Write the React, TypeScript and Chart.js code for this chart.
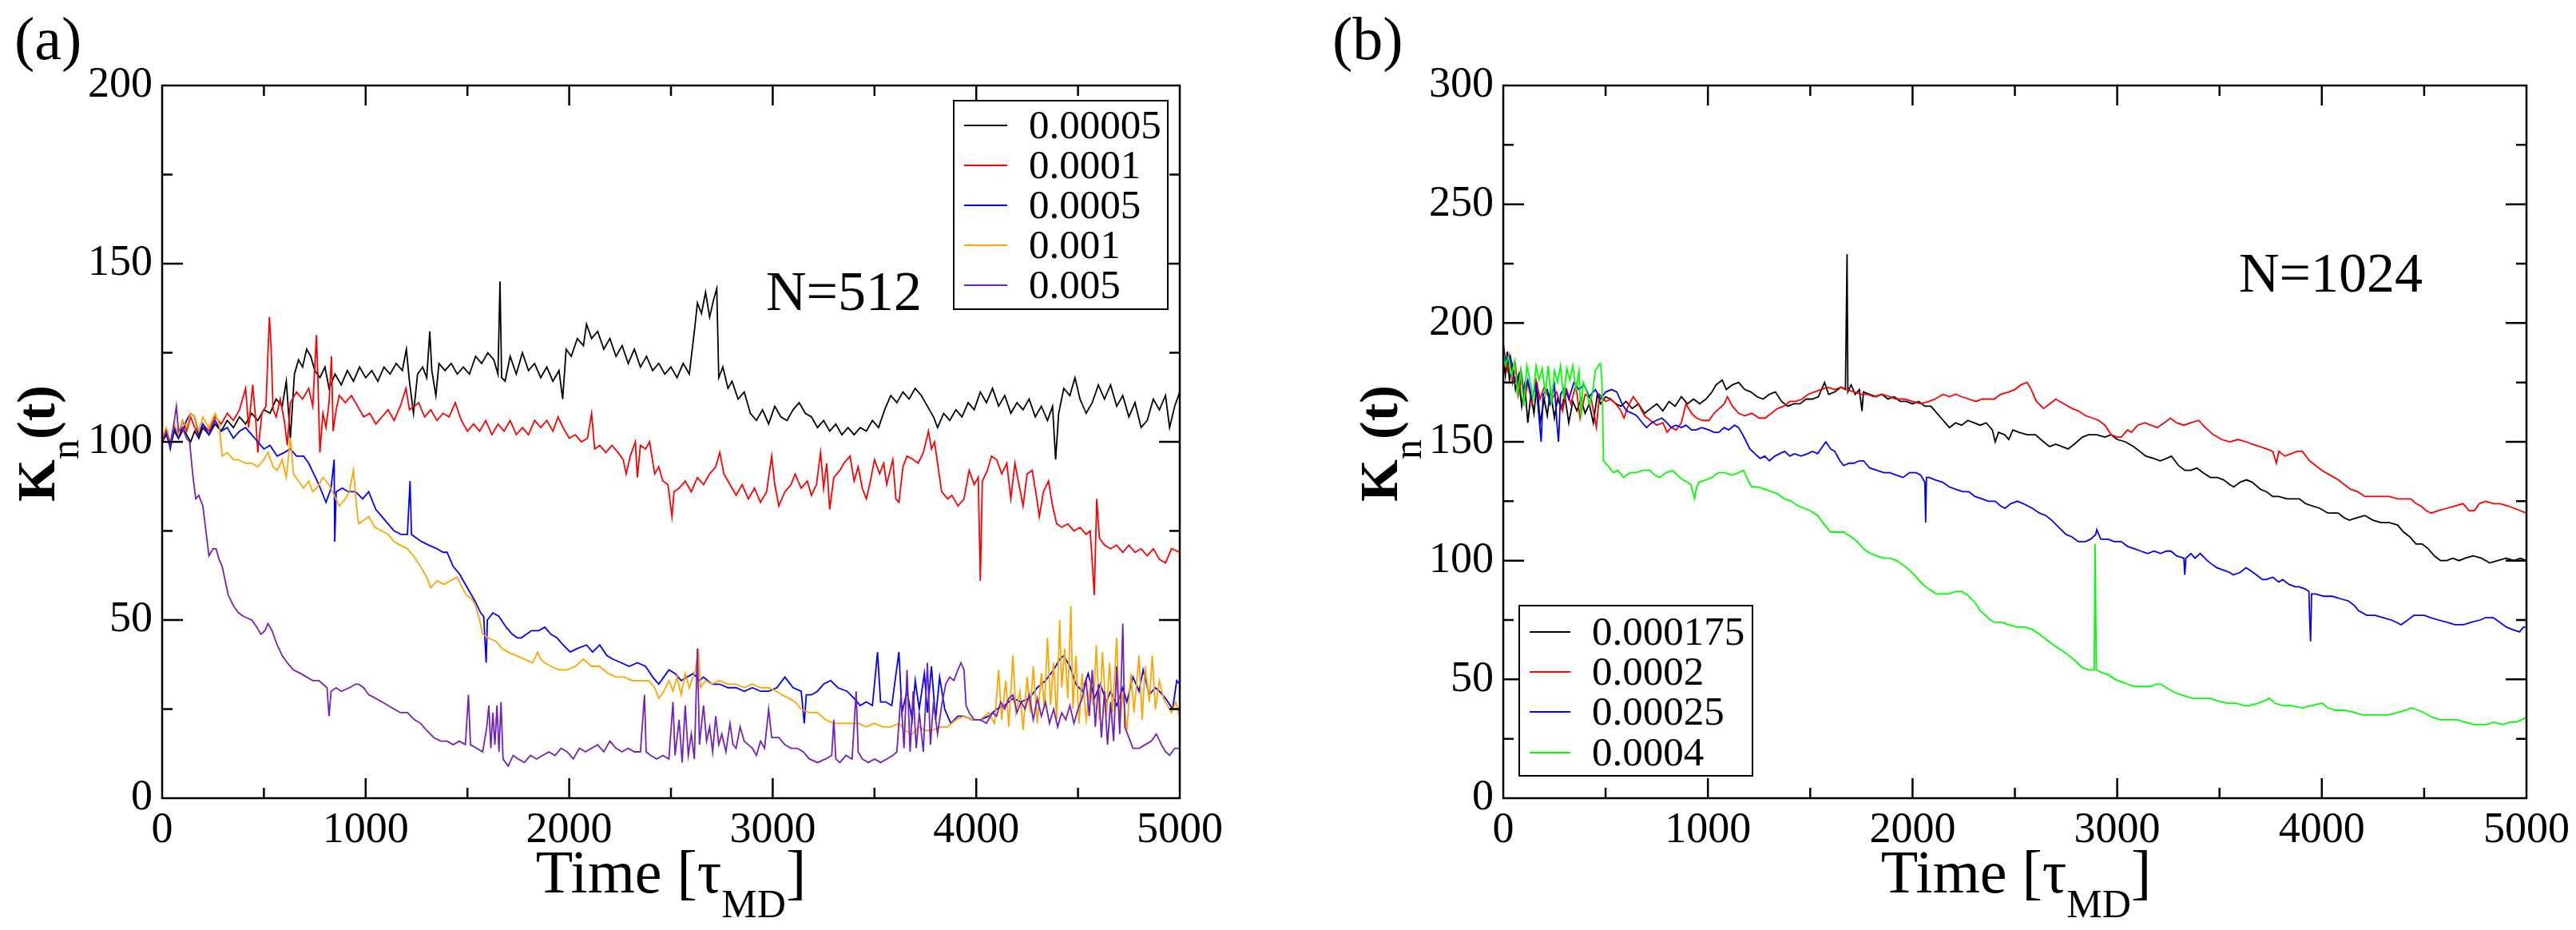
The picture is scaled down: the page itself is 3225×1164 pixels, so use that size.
import { useEffect, useRef } from 'react'
import { Chart, registerables } from 'chart.js'
Chart.register(...registerables)

type Pt = [number, number]

// ---- panel (a), N=512 ----
const A_LABELS = ['0.00005', '0.0001', '0.0005', '0.001', '0.005']
const A_COLORS = ['#000000', '#ff0000', '#0000ff', '#ffa500', '#7221bc']

const A_00005: Pt[] = [[0,100],[20,102],[40,99],[60,103],[80,101],[100,104],[120,102],[140,100],[160,103],[180,101],[200,104],[230,102],[260,105],[290,103],[320,106],[350,104],[380,107],[410,105],[440,108],[470,106],[500,109],[530,108],[560,112],[590,110],[610,117],[630,101],[650,119],[670,123],[690,121],[710,126],[730,124],[750,120],[775,118],[800,121],[820,115],[850,119],[880,116],[910,120],[940,117],[970,121],[1000,118],[1030,120],[1060,117],[1090,121],[1120,119],[1150,122],[1180,120],[1200,126],[1215,117],[1235,108],[1255,119],[1280,121],[1300,118],[1315,131],[1325,120],[1345,113],[1360,122],[1390,120],[1420,122],[1450,119],[1480,121],[1510,119],[1540,124],[1570,122],[1600,125],[1630,123],[1650,119],[1660,145],[1668,118],[1685,117],[1710,124],[1740,119],[1770,125],[1800,120],[1830,122],[1860,118],[1890,121],[1920,117],[1950,120],[1968,112],[1985,126],[2010,124],[2040,129],[2070,127],[2085,133],[2110,129],[2140,131],[2170,126],[2200,129],[2230,124],[2260,127],[2290,122],[2320,126],[2350,121],[2380,124],[2410,120],[2440,122],[2470,119],[2500,121],[2530,118],[2560,122],[2590,119],[2615,131],[2630,139],[2650,136],[2670,142],[2690,135],[2710,140],[2725,143],[2735,118],[2755,121],[2780,115],[2800,117],[2830,112],[2860,114],[2890,108],[2920,106],[2950,109],[2980,105],[3010,110],[3040,107],[3070,106],[3100,109],[3130,111],[3160,108],[3190,107],[3220,104],[3250,106],[3280,103],[3310,105],[3340,102],[3370,104],[3400,102],[3430,104],[3460,103],[3490,106],[3520,104],[3550,109],[3580,113],[3610,111],[3640,114],[3670,112],[3700,115],[3730,113],[3760,110],[3790,107],[3810,104],[3840,108],[3870,106],[3900,109],[3930,107],[3960,111],[3990,109],[4020,114],[4050,111],[4080,115],[4110,110],[4140,113],[4170,108],[4200,111],[4230,109],[4260,112],[4290,107],[4320,110],[4350,106],[4375,110],[4390,95],[4405,108],[4430,115],[4460,113],[4485,118],[4510,112],[4540,108],[4570,111],[4600,116],[4630,112],[4660,116],[4690,110],[4720,113],[4750,107],[4780,111],[4810,104],[4840,106],[4870,112],[4900,109],[4930,113],[4950,104],[4975,110],[5000,114]]

const A_0001: Pt[] = [[0,101],[20,103],[40,99],[60,104],[80,102],[100,106],[120,103],[140,107],[160,104],[180,102],[200,105],[230,103],[260,107],[290,105],[320,108],[350,106],[380,109],[410,115],[425,104],[445,116],[460,106],[470,97],[490,108],[510,110],[520,125],[527,135],[535,127],[545,109],[560,107],[580,112],[600,106],[615,99],[630,111],[660,114],[690,112],[720,115],[740,110],[758,130],[765,118],[775,97],[790,108],[805,104],[820,111],[832,124],[840,103],[855,109],[870,113],[900,111],[930,113],[960,110],[990,107],[1020,108],[1050,105],[1080,107],[1110,109],[1140,106],[1170,110],[1198,115],[1215,109],[1240,110],[1260,111],[1290,107],[1320,109],[1350,106],[1380,108],[1410,107],[1440,111],[1470,106],[1500,103],[1530,105],[1560,103],[1590,106],[1620,102],[1650,105],[1680,103],[1710,106],[1740,102],[1770,104],[1800,102],[1830,106],[1860,104],[1890,106],[1920,103],[1945,107],[1970,104],[2000,101],[2030,102],[2060,100],[2090,101],[2110,108],[2125,98],[2150,99],[2180,97],[2210,99],[2240,97],[2265,95],[2280,91],[2300,96],[2325,100],[2335,90],[2350,99],[2375,98],[2395,100],[2420,91],[2440,93],[2460,89],[2485,88],[2505,79],[2515,86],[2540,87],[2570,89],[2600,86],[2630,90],[2660,88],[2690,91],[2720,93],[2740,97],[2760,91],[2790,88],[2820,85],[2850,88],[2880,84],[2910,87],[2940,83],[2970,86],[2995,96],[3010,88],[3030,82],[3060,86],[3090,88],[3110,91],[3140,87],[3170,89],[3190,85],[3215,88],[3235,97],[3250,87],[3265,94],[3280,81],[3300,90],[3330,92],[3350,94],[3380,96],[3400,89],[3420,93],[3440,87],[3460,84],[3480,89],[3500,95],[3525,91],[3545,94],[3560,88],[3590,95],[3605,84],[3620,83],[3640,93],[3660,96],[3690,95],[3715,94],[3740,97],[3765,103],[3780,98],[3795,100],[3815,92],[3830,86],[3860,84],[3880,85],[3910,82],[3940,84],[3965,92],[3990,88],[4010,90],[4020,61],[4030,89],[4055,92],[4075,96],[4100,95],[4125,91],[4150,94],[4170,84],[4190,94],[4210,88],[4230,82],[4250,91],[4275,92],[4295,85],[4310,79],[4330,86],[4355,89],[4375,82],[4395,77],[4420,76],[4450,77],[4480,75],[4510,76],[4540,74],[4560,75],[4580,57],[4592,84],[4605,73],[4630,71],[4660,70],[4690,71],[4720,69],[4750,71],[4780,69],[4810,70],[4840,68],[4870,70],[4900,67],[4930,66],[4960,70],[5000,69]]

const A_0005: Pt[] = [[0,100],[20,103],[40,98],[60,104],[80,101],[100,103],[120,106],[140,108],[160,107],[180,102],[200,105],[230,102],[260,106],[290,103],[320,104],[350,101],[380,103],[410,104],[440,102],[470,100],[500,98],[530,99],[565,96],[600,97],[630,98],[660,96],[695,96],[720,94],[745,91],[770,88],[805,83],[830,87],[845,95],[848,72],[855,86],[885,87],[915,86],[950,86],[985,84],[1015,86],[1050,81],[1080,79],[1110,77],[1140,75],[1175,74],[1205,74],[1218,89],[1225,74],[1250,73],[1275,72],[1310,71],[1350,70],[1380,69],[1400,69],[1430,65],[1460,63],[1480,61],[1510,58],[1540,55],[1565,52],[1580,51],[1592,38],[1598,50],[1625,52],[1655,51],[1690,48],[1720,46],[1745,45],[1765,45],[1790,46],[1815,47],[1850,47],[1880,48],[1910,46],[1940,45],[1970,43],[2005,41],[2040,42],[2085,43],[2115,41],[2150,43],[2185,40],[2215,39],[2255,38],[2295,37],[2335,38],[2375,37],[2410,34],[2440,32],[2465,34],[2490,36],[2520,35],[2550,33],[2580,34],[2610,35],[2640,33],[2660,34],[2700,32],[2740,32],[2780,31],[2820,31],[2860,30],[2900,31],[2940,30],[2980,30],[3020,31],[3060,34],[3100,31],[3140,30],[3155,21],[3165,29],[3190,29],[3220,30],[3250,32],[3285,33],[3320,31],[3365,30],[3400,28],[3430,26],[3460,27],[3490,26],[3515,41],[3530,27],[3555,27],[3585,26],[3620,41],[3635,24],[3660,30],[3685,22],[3700,33],[3720,25],[3745,35],[3760,24],[3780,37],[3800,22],[3820,34],[3845,25],[3875,21],[3910,23],[3940,23],[3980,22],[4020,22],[4060,23],[4100,25],[4140,26],[4180,28],[4220,27],[4260,28],[4300,31],[4340,33],[4380,36],[4410,39],[4430,40],[4460,37],[4490,32],[4520,30],[4550,35],[4580,28],[4610,32],[4640,27],[4660,30],[4690,26],[4720,31],[4740,27],[4770,34],[4800,30],[4820,36],[4850,29],[4880,31],[4900,30],[4930,28],[4965,25],[4985,33],[5000,32]]

const A_001: Pt[] = [[0,101],[20,104],[40,100],[60,105],[80,102],[100,106],[120,104],[140,108],[160,107],[180,103],[200,107],[230,104],[260,108],[280,105],[295,96],[320,97],[350,95],[375,95],[410,94],[440,94],[470,93],[500,95],[520,97],[545,93],[565,92],[590,95],[610,90],[630,101],[645,91],[670,89],[695,87],[720,89],[740,86],[760,87],[790,90],[820,88],[845,85],[870,82],[900,84],[920,86],[940,92],[955,82],[965,77],[990,78],[1015,79],[1045,76],[1080,75],[1110,74],[1140,72],[1170,71],[1205,70],[1235,68],[1270,65],[1300,62],[1320,59],[1350,61],[1385,60],[1415,61],[1450,62],[1475,59],[1495,57],[1520,56],[1540,54],[1560,50],[1575,46],[1600,45],[1640,44],[1670,42],[1700,41],[1740,40],[1780,39],[1820,38],[1845,41],[1860,39],[1880,38],[1910,37],[1950,36],[1990,36],[2030,37],[2070,39],[2110,37],[2150,37],[2190,35],[2230,34],[2270,34],[2310,33],[2350,33],[2390,33],[2420,31],[2440,28],[2465,30],[2490,33],[2510,30],[2530,34],[2550,29],[2570,35],[2590,31],[2620,36],[2635,42],[2645,31],[2670,33],[2700,32],[2740,33],[2780,32],[2820,32],[2860,31],[2900,32],[2940,31],[2980,31],[3020,30],[3045,29],[3080,28],[3110,27],[3140,25],[3180,24],[3220,24],[3260,22],[3300,21],[3340,21],[3380,21],[3420,21],[3460,20],[3500,21],[3540,20],[3580,20],[3620,21],[3650,19],[3685,18],[3720,20],[3750,19],[3780,19],[3820,20],[3860,20],[3900,22],[3940,23],[3980,22],[4020,22],[4060,24],[4090,21],[4110,36],[4125,22],[4145,33],[4160,20],[4180,40],[4195,24],[4215,30],[4230,19],[4250,34],[4265,24],[4280,37],[4300,21],[4320,35],[4335,25],[4350,45],[4365,26],[4380,38],[4395,22],[4410,50],[4420,31],[4435,42],[4450,28],[4465,54],[4475,25],[4490,40],[4505,21],[4520,35],[4540,22],[4560,32],[4575,26],[4590,43],[4605,22],[4620,41],[4640,23],[4655,38],[4670,24],[4690,45],[4705,20],[4720,30],[4740,19],[4760,35],[4775,24],[4800,40],[4815,22],[4830,37],[4850,27],[4865,40],[4880,25],[4900,33],[4920,28],[4940,26],[4960,24],[4980,27],[5000,23]]

const A_005: Pt[] = [[0,100],[20,103],[40,99],[60,106],[70,110],[80,103],[100,104],[120,101],[135,100],[150,91],[165,84],[180,85],[200,82],[215,75],[230,68],[250,70],[265,70],[280,67],[295,65],[310,61],[325,57],[350,54],[375,52],[400,51],[440,50],[465,48],[485,46],[505,47],[520,49],[540,47],[565,43],[590,40],[615,38],[645,36],[680,35],[710,34],[740,33],[770,33],[790,32],[810,31],[820,23],[830,30],[855,31],[880,30],[920,31],[950,32],[965,32],[990,31],[1015,29],[1050,28],[1080,27],[1110,26],[1140,25],[1170,24],[1205,24],[1240,22],[1270,21],[1300,19],[1335,17],[1370,16],[1400,16],[1430,15],[1460,16],[1490,15],[1505,29],[1515,15],[1545,14],[1575,13],[1595,20],[1605,26],[1615,14],[1625,24],[1635,15],[1645,26],[1655,13],[1665,27],[1675,11],[1700,9],[1725,12],[1750,11],[1780,10],[1810,12],[1840,11],[1870,12],[1900,13],[1930,12],[1960,14],[1990,13],[2020,11],[2050,14],[2080,13],[2110,14],[2140,15],[2170,13],[2200,16],[2230,14],[2260,13],[2290,14],[2320,13],[2350,13],[2370,29],[2378,13],[2400,12],[2430,11],[2460,12],[2490,11],[2510,27],[2520,12],[2540,22],[2555,10],[2570,26],[2585,12],[2600,18],[2615,11],[2630,42],[2640,15],[2660,26],[2675,16],[2690,20],[2705,13],[2720,23],[2735,15],[2750,18],[2770,13],[2790,21],[2805,15],[2820,14],[2840,20],[2860,16],[2880,15],[2900,14],[2920,12],[2940,16],[2960,14],[2980,25],[2995,17],[3030,17],[3060,15],[3090,14],[3120,14],[3150,13],[3180,11],[3220,10],[3260,11],[3290,12],[3300,22],[3310,11],[3330,10],[3360,12],[3390,11],[3410,30],[3420,13],[3440,11],[3470,10],[3500,11],[3530,10],[3560,11],[3590,12],[3610,13],[3630,29],[3645,14],[3660,36],[3675,13],[3690,30],[3705,14],[3720,24],[3740,13],[3760,38],[3775,15],[3790,27],[3810,18],[3830,26],[3850,32],[3870,34],[3890,33],[3910,36],[3925,38],[3940,36],[3950,26],[3965,24],[3990,22],[4020,22],[4050,21],[4080,24],[4100,23],[4120,27],[4140,25],[4160,28],[4180,29],[4200,24],[4220,27],[4240,25],[4260,29],[4280,22],[4300,28],[4320,23],[4340,27],[4360,21],[4380,25],[4400,20],[4420,24],[4440,22],[4460,26],[4480,21],[4500,25],[4520,28],[4540,33],[4555,23],[4570,36],[4585,20],[4600,32],[4615,17],[4630,30],[4645,15],[4660,27],[4675,16],[4690,37],[4705,18],[4720,49],[4730,20],[4750,17],[4770,14],[4800,14],[4830,15],[4860,16],[4885,18],[4910,15],[4930,13],[4950,12],[4975,14],[5000,14]]

// ---- panel (b), N=1024 ----
const B_LABELS = ['0.000175', '0.0002', '0.00025', '0.0004']
const B_COLORS = ['#000000', '#ff0000', '#0000ff', '#00ff00']

const B_000175: Pt[] = [[0,185],[10,178],[20,188],[30,176],[45,182],[60,172],[75,178],[90,165],[105,174],[120,158],[135,170],[150,162],[165,175],[180,158],[200,168],[215,161],[230,172],[250,160],[265,168],[285,164],[300,170],[320,158],[340,167],[360,163],[380,168],[400,162],[420,166],[440,158],[460,170],[475,166],[500,169],[525,168],[550,166],[575,165],[600,167],[630,164],[660,166],[690,162],[720,164],[750,166],[780,163],[810,167],[840,165],[870,169],[900,166],[930,168],[960,166],[990,168],[1020,171],[1040,174],[1070,176],[1090,172],[1120,174],[1150,175],[1180,172],[1210,171],[1240,169],[1270,168],[1300,170],[1330,171],[1360,167],[1390,165],[1420,166],[1450,166],[1480,168],[1510,168],[1540,169],[1570,175],[1590,170],[1620,171],[1650,173],[1672,172],[1676,200],[1680,229],[1684,171],[1700,174],[1720,170],[1740,172],[1753,163],[1760,171],[1790,170],[1820,169],[1850,170],[1880,168],[1910,169],[1940,167],[1970,167],[2000,166],[2030,167],[2060,165],[2090,165],[2120,162],[2150,159],[2180,156],[2210,158],[2240,157],[2270,159],[2300,158],[2330,157],[2360,158],[2390,155],[2404,150],[2420,154],[2450,153],[2470,151],[2490,155],[2520,154],[2560,153],[2600,153],[2640,150],[2670,148],[2700,149],[2730,148],[2760,147],[2790,149],[2830,152],[2860,153],[2900,153],[2940,152],[2970,153],[3000,151],[3040,150],[3080,148],[3110,146],[3140,144],[3180,143],[3210,142],[3240,143],[3265,144],[3300,140],[3330,138],[3360,138],[3390,139],[3420,137],[3455,135],[3490,135],[3520,134],[3550,132],[3570,131],[3600,133],[3632,134],[3660,133],[3700,130],[3730,129],[3760,127],[3790,127],[3830,126],[3860,126],[3890,126],[3920,124],[3955,123],[3990,122],[4030,120],[4080,120],[4110,118],[4135,117],[4170,118],[4210,119],[4250,117],[4290,116],[4330,116],[4370,115],[4400,112],[4430,110],[4460,107],[4490,107],[4520,105],[4550,102],[4580,100],[4610,100],[4640,101],[4670,100],[4700,101],[4740,102],[4780,101],[4820,99],[4860,100],[4900,101],[4940,100],[4970,101],[5000,100]]

const B_0002: Pt[] = [[0,192],[10,184],[20,180],[30,186],[45,175],[60,182],[75,170],[90,178],[105,168],[120,175],[140,166],[160,176],[180,168],[200,173],[230,167],[260,171],[290,163],[310,172],[330,166],[355,174],[375,160],[400,170],[430,168],[455,156],[470,170],[500,167],[525,168],[550,166],[575,163],[590,160],[610,165],[635,169],[660,166],[690,161],[720,159],[750,157],[780,158],[800,154],[820,156],[845,155],[870,158],[893,166],[920,162],[945,160],[975,159],[1005,159],[1030,162],[1055,164],[1080,166],[1095,169],[1120,165],[1150,162],[1180,161],[1215,162],[1250,160],[1280,160],[1310,162],[1340,164],[1370,165],[1400,167],[1430,167],[1460,168],[1490,170],[1520,171],[1550,172],[1585,173],[1620,172],[1650,173],[1680,172],[1715,171],[1750,170],[1780,170],[1810,169],[1850,170],[1890,169],[1920,168],[1960,168],[2000,167],[2040,166],[2080,167],[2110,168],[2150,170],[2180,169],[2210,170],[2240,169],[2275,168],[2310,167],[2340,168],[2370,168],[2400,168],[2430,170],[2470,171],[2500,172],[2530,174],[2560,175],[2580,172],[2605,167],[2640,164],[2670,166],[2700,168],[2740,166],[2780,164],[2810,163],[2845,161],[2880,160],[2910,159],[2940,157],[2970,153],[3000,152],[3020,152],[3050,155],[3070,154],[3100,157],[3135,158],[3165,157],[3195,156],[3230,158],[3260,160],[3290,158],[3326,157],[3360,158],[3398,159],[3430,156],[3470,153],[3510,151],[3550,150],[3590,151],[3630,150],[3660,149],[3696,148],[3730,147],[3760,146],[3778,141],[3790,146],[3820,144],[3850,145],[3880,146],[3905,146],[3940,142],[3970,140],[4000,138],[4040,136],[4080,134],[4110,132],[4140,130],[4175,129],[4210,127],[4250,127],[4290,127],[4330,127],[4370,126],[4400,126],[4435,126],[4460,124],[4484,123],[4510,121],[4535,120],[4570,121],[4610,122],[4650,123],[4690,124],[4720,121],[4745,121],[4770,124],[4800,125],[4840,124],[4870,124],[4910,123],[4940,122],[4970,121],[5000,120]]

const B_00025: Pt[] = [[0,190],[10,185],[20,183],[35,186],[50,178],[70,174],[85,180],[100,170],[120,176],[140,168],[160,174],[175,160],[185,150],[195,170],[215,172],[230,166],[250,174],[262,158],[270,150],[280,170],[300,173],[320,168],[345,175],[370,172],[395,174],[420,169],[450,172],[475,168],[500,171],[530,172],[555,171],[580,166],[603,163],[630,162],[651,161],[680,158],[700,156],[725,158],[748,159],[775,160],[800,158],[820,156],[844,157],[870,156],[893,157],[920,155],[941,155],[970,156],[1005,155],[1030,154],[1053,154],[1080,156],[1101,155],[1130,157],[1150,156],[1170,153],[1182,151],[1205,147],[1230,145],[1255,143],[1278,144],[1300,142],[1327,144],[1350,145],[1375,146],[1400,144],[1423,145],[1455,144],[1487,145],[1510,146],[1536,145],[1560,148],[1576,150],[1600,147],[1620,146],[1645,142],[1664,140],[1690,141],[1713,141],[1740,142],[1761,142],[1790,139],[1825,138],[1860,137],[1889,137],[1920,136],[1954,135],[1985,137],[2018,137],[2040,136],[2060,133],[2064,116],[2068,135],[2082,135],[2110,134],[2147,133],[2180,131],[2211,130],[2245,129],[2275,129],[2305,127],[2340,126],[2370,125],[2404,125],[2430,123],[2452,122],[2480,124],[2513,125],[2540,124],[2586,122],[2620,120],[2651,119],[2680,117],[2715,114],[2750,111],[2779,110],[2810,108],[2844,108],[2870,109],[2895,111],[2900,113],[2920,109],[2956,109],[2985,108],[3020,108],[3050,106],[3085,105],[3115,104],[3149,103],[3180,104],[3213,103],[3240,104],[3262,104],[3290,102],[3326,101],[3330,94],[3336,101],[3360,103],[3380,101],[3406,103],[3440,100],[3470,98],[3487,97],[3520,96],[3550,95],[3567,94],[3600,95],[3630,97],[3648,96],[3680,94],[3710,92],[3728,92],[3760,93],[3790,91],[3808,92],[3840,90],[3870,89],[3889,89],[3920,88],[3937,87],[3940,77],[3945,66],[3950,86],[3969,86],[4010,85],[4050,85],[4090,84],[4130,83],[4160,81],[4178,79],[4220,77],[4259,77],[4300,76],[4339,75],[4365,74],[4387,73],[4420,75],[4450,77],[4468,77],[4500,77],[4532,76],[4570,75],[4612,74],[4650,73],[4693,73],[4730,74],[4773,75],[4800,76],[4838,76],[4870,74],[4902,72],[4930,71],[4966,70],[4985,72],[5000,72]]

const B_0004: Pt[] = [[0,188],[10,182],[25,186],[40,178],[55,184],[70,170],[85,180],[100,165],[115,182],[130,176],[145,168],[160,182],[175,176],[190,181],[205,170],[220,182],[235,166],[250,180],[265,175],[280,182],[295,168],[310,181],[325,176],[340,182],[355,172],[370,180],[380,160],[390,175],[405,172],[420,166],[435,170],[450,180],[465,182],[475,183],[482,176],[486,160],[490,142],[510,140],[539,137],[560,138],[587,135],[620,137],[651,137],[680,138],[716,138],[740,136],[764,135],[795,137],[828,138],[850,136],[876,134],[900,133],[917,132],[935,126],[945,131],[957,133],[990,134],[1021,135],[1050,137],[1085,137],[1115,136],[1150,137],[1174,138],[1195,134],[1214,131],[1245,131],[1278,130],[1310,129],[1343,128],[1375,126],[1407,125],[1440,123],[1471,122],[1500,121],[1536,119],[1570,115],[1600,112],[1630,112],[1664,112],[1700,110],[1729,108],[1760,105],[1793,103],[1825,102],[1857,101],[1890,101],[1922,100],[1955,98],[1986,96],[2018,93],[2050,90],[2080,88],[2115,86],[2150,86],[2179,86],[2210,87],[2243,87],[2275,85],[2308,82],[2330,79],[2356,77],[2380,75],[2404,74],[2435,74],[2468,73],[2513,72],[2550,72],[2586,71],[2620,69],[2651,67],[2680,65],[2715,63],[2750,61],[2779,59],[2805,57],[2828,55],[2860,54],[2888,54],[2892,107],[2895,80],[2898,54],[2920,53],[2956,52],[2990,50],[3020,49],[3050,48],[3085,47],[3120,47],[3165,47],[3190,48],[3213,48],[3250,46],[3294,44],[3330,43],[3374,42],[3410,42],[3455,42],[3490,41],[3535,40],[3580,40],[3620,39],[3648,39],[3690,40],[3720,41],[3744,42],[3770,40],[3808,39],[3850,39],[3905,38],[3950,39],[4001,40],[4030,38],[4066,37],[4110,37],[4162,36],[4200,35],[4226,35],[4270,35],[4323,35],[4370,36],[4410,37],[4435,38],[4470,37],[4500,36],[4540,34],[4580,33],[4620,33],[4661,33],[4700,32],[4741,31],[4780,31],[4805,31],[4840,32],[4886,31],[4920,32],[4950,32],[4975,33],[5000,34]]

const SERIF = '"Liberation Serif", "Times New Roman", serif'

// frame box + inward ticks on all four sides, like xmgrace
const frameTicks = {
    id: 'frameTicks',
    afterDatasetsDraw(chart: any, _args: any, opts: any) {
        const { ctx, chartArea: { left, right, top, bottom }, scales: { x, y } } = chart
        ctx.save()
        ctx.strokeStyle = '#000'
        ctx.lineWidth = 2.5
        ctx.strokeRect(left, top, right - left, bottom - top)
        ctx.beginPath()
        for (let v = x.min + opts.xMinor; v < x.max; v += opts.xMinor) {
            const p = x.getPixelForValue(v)
            const len = v % opts.xMajor === 0 ? 25 : 13
            ctx.moveTo(p, bottom); ctx.lineTo(p, bottom - len)
            ctx.moveTo(p, top); ctx.lineTo(p, top + len)
        }
        for (let v = y.min + opts.yMinor; v < y.max; v += opts.yMinor) {
            const p = y.getPixelForValue(v)
            const len = v % opts.yMajor === 0 ? 26 : 13
            ctx.moveTo(left, p); ctx.lineTo(left + len, p)
            ctx.moveTo(right, p); ctx.lineTo(right - len, p)
        }
        ctx.stroke()
        ctx.restore()
    },
}

interface PanelProps {
    left: number
    width: number
    axisW: number
    padRight: number
    yMax: number
    series: Pt[][]
    colors: string[]
}

function Panel({ left, width, axisW, padRight, yMax, series, colors }: PanelProps) {
    const canvasRef = useRef<HTMLCanvasElement>(null)

    useEffect(() => {
        if (!canvasRef.current) return
        const n = series.length
        const chart = new Chart(canvasRef.current, {
            type: 'line',
            data: {
                datasets: series.map((s, i) => ({
                    data: s.map(([x, y]) => ({ x, y })),
                    borderColor: colors[i],
                    borderWidth: 1.8,
                    pointRadius: 0,
                    tension: 0,
                    fill: false,
                    order: n - i,
                })),
            },
            options: {
                responsive: false,
                animation: false,
                devicePixelRatio: 1,
                layout: { padding: { left: 0, top: 107, right: padRight, bottom: 0 } },
                plugins: {
                    legend: { display: false },
                    tooltip: { enabled: false },
                    frameTicks: { xMinor: 500, xMajor: 1000, yMinor: 25, yMajor: 50 },
                } as any,
                scales: {
                    x: {
                        type: 'linear', min: 0, max: 5000,
                        grid: { display: false, drawTicks: false },
                        border: { display: false },
                        ticks: {
                            stepSize: 1000, padding: 8, maxRotation: 0, minRotation: 0, color: '#000',
                            font: { family: SERIF, size: 54 },
                            callback: (v: any) => String(v),
                        },
                        afterFit: (s: any) => { s.height = 165 },
                    },
                    y: {
                        type: 'linear', min: 0, max: yMax,
                        grid: { display: false, drawTicks: false },
                        border: { display: false },
                        ticks: {
                            stepSize: 50, padding: 12, color: '#000',
                            font: { family: SERIF, size: 54 },
                            callback: (v: any) => String(v),
                        },
                        afterFit: (s: any) => { s.width = axisW },
                    },
                },
            },
            plugins: [frameTicks],
        })
        return () => chart.destroy()
    }, [series, colors, yMax, axisW, padRight])

    return <canvas ref={canvasRef} width={width} height={1164} style={{ position: 'absolute', left, top: 0 }} />
}

// baseline -> top for line-height 1 in Liberation Serif
const topFor = (baseline: number, size: number) => baseline - 0.8375 * size

function Text({ x, baseline, size, children }: { x: number; baseline: number; size: number; children: React.ReactNode }) {
    return (
        <div style={{ position: 'absolute', left: x, top: topFor(baseline, size), fontSize: size, lineHeight: 1, whiteSpace: 'nowrap' }}>
            {children}
        </div>
    )
}

function XTitle({ left, width }: { left: number; width: number }) {
    return (
        <div style={{ position: 'absolute', left, width, top: topFor(1117, 76), fontSize: 76, lineHeight: 1, textAlign: 'center', whiteSpace: 'nowrap' }}>
            Time [τ<span style={{ fontSize: 50, position: 'relative', top: 31 }}>MD</span>]
        </div>
    )
}

function YTitle({ cx }: { cx: number }) {
    return (
        <div style={{
            position: 'absolute', left: cx - 200, top: 555 - 34, width: 400, height: 68,
            fontSize: 68, lineHeight: 1, fontWeight: 'bold', textAlign: 'center', whiteSpace: 'nowrap',
            transform: 'rotate(-90deg)',
        }}>
            K<span style={{ fontSize: 50, fontWeight: 'normal', position: 'relative', top: 30 }}>n</span>(t)
        </div>
    )
}

interface LegendProps {
    left: number; top: number; width: number; height: number
    lineX: number; lineW: number; textX: number; rows: number[]
    labels: string[]; colors: string[]
}

function Legend({ left, top, width, height, lineX, lineW, textX, rows, labels, colors }: LegendProps) {
    return (
        <div style={{ position: 'absolute', left, top, width, height, border: '2.5px solid #000', boxSizing: 'border-box', background: '#fff' }}>
            {labels.map((l, i) => (
                <div key={l}>
                    <div style={{ position: 'absolute', left: lineX, top: rows[i] - 1, width: lineW, height: 2, background: colors[i] }} />
                    <div style={{ position: 'absolute', left: textX, top: rows[i] + 17 - 0.8375 * 51, fontSize: 51, lineHeight: 1, whiteSpace: 'nowrap' }}>{l}</div>
                </div>
            ))}
        </div>
    )
}

export default function App() {
    return (
        <div style={{ position: 'absolute', left: 0, top: 0, width: 3225, height: 1164, background: '#fff', fontFamily: SERIF, color: '#000', overflow: 'hidden' }}>
            <Panel left={0} width={1600} axisW={203} padRight={123} yMax={200}
                series={[A_00005, A_0001, A_0005, A_001, A_005]} colors={A_COLORS} />
            <Panel left={1600} width={1625} axisW={282} padRight={59} yMax={300}
                series={[B_000175, B_0002, B_00025, B_0004]} colors={B_COLORS} />

            <Text x={18} baseline={74} size={76}>(a)</Text>
            <Text x={1668} baseline={74} size={76}>(b)</Text>

            <Text x={959} baseline={389} size={70}>N=512</Text>
            <Text x={2803} baseline={366} size={70}>N=1024</Text>

            <XTitle left={203} width={1274} />
            <XTitle left={1882} width={1284} />
            <YTitle cx={45} />
            <YTitle cx={1726} />

            <Legend left={1193} top={125} width={270} height={263} lineX={12} lineW={54} textX={93}
                rows={[30, 80, 130, 180, 230]} labels={A_LABELS} colors={A_COLORS} />
            <Legend left={1901} top={757} width={294} height={215} lineX={12} lineW={51} textX={90}
                rows={[32, 82, 132, 183]} labels={B_LABELS} colors={B_COLORS} />
        </div>
    )
}
